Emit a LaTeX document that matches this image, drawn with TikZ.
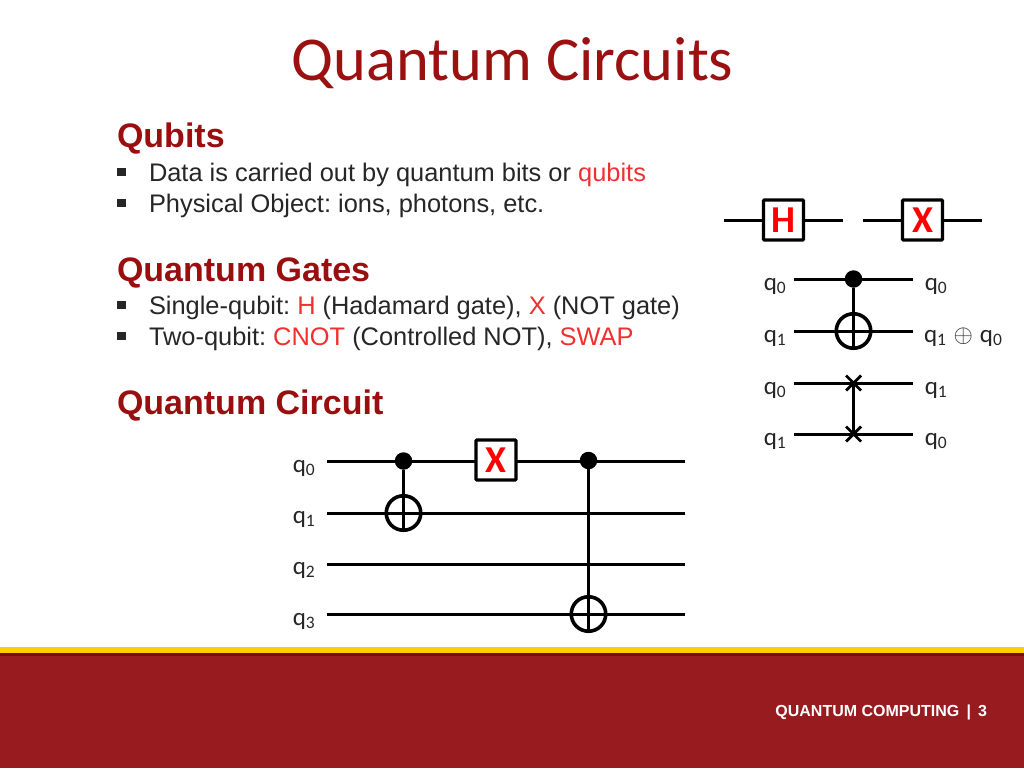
\documentclass[tikz,border=0pt]{standalone}
\usepackage{amsmath}
\usepackage{fontspec}
\setmainfont{Liberation Sans}
\newfontfamily\calfont{Carlito}
\usepackage{xcolor}
\usetikzlibrary{
  shapes.misc
}
\definecolor{titlered}{HTML}{9B1010}
\definecolor{headred}{HTML}{990F0F}
\definecolor{hotred}{HTML}{F03030}
\definecolor{gatered}{HTML}{FF0000}
\definecolor{barred}{HTML}{971B1F}
\definecolor{bardark}{HTML}{7A0A0A}
\definecolor{baryellow}{HTML}{FFCC0A}
\newcommand{\hot}[1]{\textcolor{hotred}{#1}}
\newcommand{\sqitem}{\makebox[32pt][l]{\raisebox{5pt}{\rule{8.5pt}{8.5pt}}}}
\newcommand{\qsub}[1]{q\textsubscript{#1}}
\newcommand{\gatetext}[1]{\raisebox{-1.5pt}{#1}}
\frenchspacing

\begin{document}
\begin{tikzpicture}[
  x=1pt, y=-1pt,
  every node/.style = {inner sep=0pt, outer sep=0pt},
  heading/.style = {anchor=base west, font=\fontsize{34}{34}\selectfont\bfseries, text=headred},
  bodyline/.style = {anchor=base west, font=\fontsize{25.4}{25.4}\selectfont, text=black!85},
  qlabel/.style = {anchor=base, font=\calfont\fontsize{25}{25}\selectfont, text=black!85},
  wire/.style = {line width=3pt, black},
  link/.style = {line width=3pt, black},
  gate/.style = {shape=rectangle, rounded corners=1pt, draw, line width=3.4pt, fill=white,
    minimum size=40pt, text=gatered, font=\calfont\fontsize{38}{38}\selectfont\bfseries},
  ctrl/.style = {shape=circle, fill=black, minimum size=17.5pt},
  target/.style = {shape=circle, draw, line width=3.6pt, minimum size=34.5pt},
  swapx/.style = {shape=cross out, draw, line width=2.8pt, minimum size=15pt}]

  \useasboundingbox (0,0) rectangle (1024,768);
  \fill[barred] (0,655) rectangle (1024,768);
  \fill[baryellow] (0,647) rectangle (1024,653);
  \fill[bardark] (0,653) rectangle (1024,655.5);

  \node[anchor=base, text=titlered, font=\calfont\fontsize{62.4}{62.4}\selectfont] (title) at (512.5,80.5) {Quantum Circuits};

  \node[heading] (qubits) at (117,147) {Qubits};
  \node[bodyline] (data) at (117,181) {\sqitem Data is carried out by quantum bits or \hot{qubits}};
  \node[bodyline] (object) at (117,212) {\sqitem Physical Object: ions, photons, etc.};
  \node[heading] (gates) at (117,281) {Quantum Gates};
  \node[bodyline] (single) at (117,314) {\sqitem Single-qubit: \hot{H} (Hadamard gate), \hot{X} (NOT gate)};
  \node[bodyline] (two) at (117,345) {\sqitem Two-qubit: \hot{CNOT} (Controlled NOT), \hot{SWAP}};
  \node[heading] (circuit) at (117,414) {Quantum Circuit};

  \coordinate (hin) at (724,220);
  \coordinate (hout) at (843,220);
  \coordinate (xin) at (863,220);
  \coordinate (xout) at (982,220);
  \draw[wire] (hin) -- (hout);
  \draw[wire] (xin) -- (xout);
  \node[gate] (hgate) at (783.5,220) {\gatetext{H}};
  \node[gate] (xgate) at (922.5,220) {\gatetext{X}};

  \node[qlabel] (ca) at (775,290) {\qsub{0}};
  \node[qlabel] (cb) at (775,342) {\qsub{1}};
  \node[qlabel] (cc) at (936,290) {\qsub{0}};
  \node[qlabel, anchor=base west] (cd) at (924,342) {\qsub{1}\hspace{7pt}{\fontsize{40}{40}\selectfont$\oplus$}\hspace{7pt}\qsub{0}};
  \coordinate (cain) at (794,279);
  \coordinate (caout) at (913,279);
  \coordinate (cbin) at (794,331);
  \coordinate (cbout) at (913,331);
  \draw[wire] (cain) -- (caout);
  \draw[wire] (cbin) -- (cbout);
  \node[ctrl] (cdot) at (853.5,279) {};
  \node[target] (ctgt) at (853.5,331) {};
  \draw[link] (cdot) -- (ctgt.south);

  \node[qlabel] (sa) at (775,394) {\qsub{0}};
  \node[qlabel] (sb) at (775,445) {\qsub{1}};
  \node[qlabel] (sc) at (936,394) {\qsub{1}};
  \node[qlabel] (sd) at (936,445) {\qsub{0}};
  \coordinate (sain) at (794,383);
  \coordinate (saout) at (913,383);
  \coordinate (sbin) at (794,434);
  \coordinate (sbout) at (913,434);
  \draw[wire] (sain) -- (saout);
  \draw[wire] (sbin) -- (sbout);
  \node[swapx] (sx) at (853.5,383) {};
  \node[swapx] (sy) at (853.5,434) {};
  \draw[link] (sx.center) -- (sy.center);

  \node[qlabel] (qa) at (304,472) {\qsub{0}};
  \node[qlabel] (qb) at (304,523) {\qsub{1}};
  \node[qlabel] (qc) at (304,574) {\qsub{2}};
  \node[qlabel] (qd) at (304,625) {\qsub{3}};
  \coordinate (qain) at (327,461);
  \coordinate (qaout) at (685,461);
  \coordinate (qbin) at (327,513);
  \coordinate (qbout) at (685,513);
  \coordinate (qcin) at (327,564);
  \coordinate (qcout) at (685,564);
  \coordinate (qdin) at (327,614);
  \coordinate (qdout) at (685,614);
  \draw[wire] (qain) -- (qaout);
  \draw[wire] (qbin) -- (qbout);
  \draw[wire] (qcin) -- (qcout);
  \draw[wire] (qdin) -- (qdout);
  \node[ctrl] (dota) at (403.5,461) {};
  \node[target] (tgta) at (403.5,513) {};
  \draw[link] (dota) -- (tgta.south);
  \node[gate] (xmain) at (496,460) {\gatetext{X}};
  \node[ctrl] (dotb) at (588.5,460.5) {};
  \node[target] (tgtb) at (588.5,614) {};
  \draw[link] (dotb) -- (tgtb.south);

  \node[anchor=base east, text=white, font=\fontsize{16}{16}\selectfont\bfseries] (footer) at (987,716) {QUANTUM COMPUTING \,|\, 3};
\end{tikzpicture}
\end{document}
